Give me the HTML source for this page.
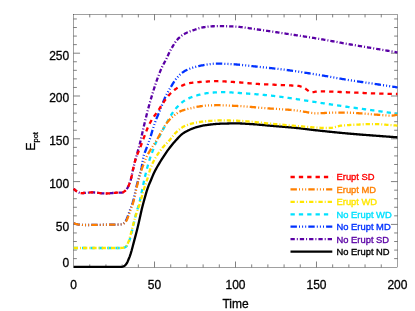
<!DOCTYPE html>
<html lang="en"><head><meta charset="utf-8"><title>E_pot vs Time</title>
<style>
html,body{margin:0;padding:0;background:#fff;}
body{width:415px;height:311px;overflow:hidden;}
svg{display:block;}
text{font-family:"Liberation Sans",Arial,Helvetica,sans-serif;}
</style></head><body>
<svg width="415" height="311" viewBox="0 0 415 311">
<rect x="0" y="0" width="415" height="311" fill="#ffffff"/>
<defs><filter id="soft" x="-5%" y="-5%" width="110%" height="110%" color-interpolation-filters="sRGB"><feGaussianBlur stdDeviation="0.25"/></filter></defs>
<g stroke="#000" stroke-width="0.37" fill="none">
<rect x="73.55" y="14.50" width="323.90" height="252.80"/>
<path stroke-width="0.5" d="M89.75 267.30V264.40M89.75 14.50V17.40M105.94 267.30V264.40M105.94 14.50V17.40M122.13 267.30V264.40M122.13 14.50V17.40M138.33 267.30V264.40M138.33 14.50V17.40M154.52 267.30V261.50M154.52 14.50V20.30M170.72 267.30V264.40M170.72 14.50V17.40M186.91 267.30V264.40M186.91 14.50V17.40M203.11 267.30V264.40M203.11 14.50V17.40M219.31 267.30V264.40M219.31 14.50V17.40M235.50 267.30V261.50M235.50 14.50V20.30M251.69 267.30V264.40M251.69 14.50V17.40M267.89 267.30V264.40M267.89 14.50V17.40M284.08 267.30V264.40M284.08 14.50V17.40M300.28 267.30V264.40M300.28 14.50V17.40M316.47 267.30V261.50M316.47 14.50V20.30M332.67 267.30V264.40M332.67 14.50V17.40M348.87 267.30V264.40M348.87 14.50V17.40M365.06 267.30V264.40M365.06 14.50V17.40M381.25 267.30V264.40M381.25 14.50V17.40"/>
<path stroke-width="0.5" d="M73.55 258.64H76.85M397.45 258.64H394.15M73.55 250.08H76.85M397.45 250.08H394.15M73.55 241.52H76.85M397.45 241.52H394.15M73.55 232.96H76.85M397.45 232.96H394.15M73.55 224.40H80.05M397.45 224.40H390.95M73.55 215.84H76.85M397.45 215.84H394.15M73.55 207.28H76.85M397.45 207.28H394.15M73.55 198.72H76.85M397.45 198.72H394.15M73.55 190.16H76.85M397.45 190.16H394.15M73.55 181.60H80.05M397.45 181.60H390.95M73.55 173.04H76.85M397.45 173.04H394.15M73.55 164.48H76.85M397.45 164.48H394.15M73.55 155.92H76.85M397.45 155.92H394.15M73.55 147.36H76.85M397.45 147.36H394.15M73.55 138.80H80.05M397.45 138.80H390.95M73.55 130.24H76.85M397.45 130.24H394.15M73.55 121.68H76.85M397.45 121.68H394.15M73.55 113.12H76.85M397.45 113.12H394.15M73.55 104.56H76.85M397.45 104.56H394.15M73.55 96.00H80.05M397.45 96.00H390.95M73.55 87.44H76.85M397.45 87.44H394.15M73.55 78.88H76.85M397.45 78.88H394.15M73.55 70.32H76.85M397.45 70.32H394.15M73.55 61.76H76.85M397.45 61.76H394.15M73.55 53.20H80.05M397.45 53.20H390.95M73.55 44.64H76.85M397.45 44.64H394.15M73.55 36.08H76.85M397.45 36.08H394.15M73.55 27.52H76.85M397.45 27.52H394.15M73.55 18.96H76.85M397.45 18.96H394.15"/>
</g>
<g stroke-linecap="butt" stroke-linejoin="round">
<polyline fill="none" stroke="#000000" stroke-width="2.30" points="73.70,266.90 74.70,266.90 75.70,266.90 76.70,266.90 77.70,266.90 78.70,266.90 79.70,266.90 80.70,266.90 81.70,266.90 82.70,266.90 83.70,266.90 84.70,266.90 85.70,266.90 86.70,266.90 87.70,266.90 88.70,266.90 89.70,266.90 90.70,266.90 91.70,266.90 92.70,266.90 93.70,266.90 94.70,266.90 95.70,266.90 96.70,266.90 97.70,266.90 98.70,266.90 99.70,266.90 100.70,266.90 101.70,266.90 102.70,266.90 103.70,266.90 104.70,266.90 105.70,266.90 106.70,266.90 107.70,266.90 108.70,266.90 109.70,266.90 110.70,266.90 111.70,266.90 112.70,266.90 113.70,266.90 114.70,266.90 115.70,266.90 116.70,266.90 117.70,266.90 118.70,266.90 119.70,266.90 120.70,266.90 121.70,266.83 122.70,266.59 123.70,266.24 124.70,265.67 125.70,264.75 126.70,263.40 127.70,261.41 128.70,259.03 129.70,256.56 130.70,253.67 131.70,250.24 132.70,246.48 133.70,242.65 134.70,238.90 135.70,235.12 136.70,231.24 137.70,227.24 138.70,222.99 139.70,218.44 140.70,213.88 141.70,209.59 142.70,205.59 143.70,201.78 144.70,198.14 145.70,194.59 146.70,191.18 147.70,188.06 148.70,185.36 149.70,182.99 150.70,180.70 151.70,178.31 152.70,175.89 153.70,173.57 154.70,171.49 155.70,169.58 156.70,167.78 157.70,166.04 158.70,164.33 159.70,162.64 160.70,161.00 161.70,159.41 162.70,157.85 163.70,156.31 164.70,154.79 165.70,153.30 166.70,151.85 167.70,150.45 168.70,149.10 169.70,147.79 170.70,146.50 171.70,145.24 172.70,144.02 173.70,142.83 174.70,141.67 175.70,140.55 176.70,139.45 177.70,138.36 178.70,137.28 179.70,136.24 180.70,135.26 181.70,134.37 182.70,133.60 183.70,132.92 184.70,132.29 185.70,131.71 186.70,131.17 187.70,130.66 188.70,130.19 189.70,129.73 190.70,129.30 191.70,128.88 192.70,128.47 193.70,128.09 194.70,127.73 195.70,127.39 196.70,127.08 197.70,126.80 198.70,126.54 199.70,126.30 200.70,126.06 201.70,125.85 202.70,125.65 203.70,125.46 204.70,125.30 205.70,125.16 206.70,125.02 207.70,124.89 208.70,124.76 209.70,124.63 210.70,124.51 211.70,124.40 212.70,124.29 213.70,124.19 214.70,124.09 215.70,124.00 216.70,123.92 217.70,123.85 218.70,123.79 219.70,123.74 220.70,123.70 221.70,123.67 222.70,123.64 223.70,123.61 224.70,123.58 225.70,123.55 226.70,123.53 227.70,123.51 228.70,123.48 229.70,123.46 230.70,123.45 231.70,123.43 232.70,123.42 233.70,123.41 234.70,123.40 235.70,123.40 236.70,123.40 237.70,123.41 238.70,123.43 239.70,123.45 240.70,123.49 241.70,123.52 242.70,123.57 243.70,123.62 244.70,123.67 245.70,123.73 246.70,123.79 247.70,123.85 248.70,123.92 249.70,123.98 250.70,124.04 251.70,124.10 252.70,124.16 253.70,124.23 254.70,124.30 255.70,124.38 256.70,124.46 257.70,124.55 258.70,124.64 259.70,124.73 260.70,124.82 261.70,124.92 262.70,125.01 263.70,125.11 264.70,125.21 265.70,125.30 266.70,125.39 267.70,125.49 268.70,125.57 269.70,125.66 270.70,125.75 271.70,125.83 272.70,125.91 273.70,126.00 274.70,126.08 275.70,126.16 276.70,126.24 277.70,126.33 278.70,126.41 279.70,126.49 280.70,126.57 281.70,126.65 282.70,126.74 283.70,126.82 284.70,126.90 285.70,126.99 286.70,127.07 287.70,127.16 288.70,127.25 289.70,127.34 290.70,127.43 291.70,127.52 292.70,127.61 293.70,127.71 294.70,127.80 295.70,127.90 296.70,128.00 297.70,128.11 298.70,128.21 299.70,128.32 300.70,128.44 301.70,128.55 302.70,128.67 303.70,128.79 304.70,128.91 305.70,129.03 306.70,129.15 307.70,129.27 308.70,129.40 309.70,129.52 310.70,129.64 311.70,129.76 312.70,129.89 313.70,130.01 314.70,130.12 315.70,130.24 316.70,130.36 317.70,130.47 318.70,130.58 319.70,130.69 320.70,130.79 321.70,130.90 322.70,131.01 323.70,131.12 324.70,131.22 325.70,131.33 326.70,131.43 327.70,131.54 328.70,131.64 329.70,131.75 330.70,131.85 331.70,131.95 332.70,132.05 333.70,132.16 334.70,132.26 335.70,132.36 336.70,132.46 337.70,132.55 338.70,132.65 339.70,132.75 340.70,132.85 341.70,132.94 342.70,133.03 343.70,133.13 344.70,133.22 345.70,133.31 346.70,133.40 347.70,133.49 348.70,133.58 349.70,133.67 350.70,133.75 351.70,133.84 352.70,133.92 353.70,134.01 354.70,134.09 355.70,134.17 356.70,134.25 357.70,134.33 358.70,134.41 359.70,134.49 360.70,134.57 361.70,134.65 362.70,134.73 363.70,134.81 364.70,134.88 365.70,134.96 366.70,135.04 367.70,135.11 368.70,135.19 369.70,135.26 370.70,135.34 371.70,135.41 372.70,135.49 373.70,135.57 374.70,135.64 375.70,135.72 376.70,135.79 377.70,135.87 378.70,135.94 379.70,136.02 380.70,136.09 381.70,136.17 382.70,136.24 383.70,136.32 384.70,136.39 385.70,136.46 386.70,136.54 387.70,136.61 388.70,136.68 389.70,136.75 390.70,136.82 391.70,136.90 392.70,136.97 393.70,137.04 394.70,137.11 395.70,137.18 396.70,137.25 397.40,137.30"/>
<polyline fill="none" stroke="#5a00a5" stroke-width="2.30" stroke-dasharray="4.3 2 1 2" points="73.70,188.70 74.70,189.70 75.70,190.59 76.70,191.32 77.70,191.91 78.70,192.47 79.70,192.90 80.70,193.10 81.70,193.09 82.70,193.05 83.70,192.99 84.70,192.91 85.70,192.82 86.70,192.73 87.70,192.64 88.70,192.56 89.70,192.49 90.70,192.43 91.70,192.40 92.70,192.40 93.70,192.44 94.70,192.50 95.70,192.58 96.70,192.69 97.70,192.80 98.70,192.92 99.70,193.04 100.70,193.16 101.70,193.27 102.70,193.36 103.70,193.43 104.70,193.48 105.70,193.50 106.70,193.48 107.70,193.44 108.70,193.38 109.70,193.29 110.70,193.20 111.70,193.10 112.70,193.00 113.70,192.90 114.70,192.82 115.70,192.74 116.70,192.69 117.70,192.66 118.70,192.63 119.70,192.61 120.70,192.58 121.70,192.54 122.70,192.42 123.70,191.91 124.70,191.14 125.70,190.27 126.70,189.11 127.70,187.58 128.70,185.54 129.70,183.01 130.70,180.02 131.70,175.92 132.70,170.96 133.70,166.65 134.70,162.61 135.70,158.75 136.70,155.12 137.70,151.65 138.70,148.02 139.70,144.20 140.70,140.10 141.70,135.76 142.70,131.32 143.70,126.90 144.70,122.65 145.70,118.53 146.70,114.52 147.70,110.64 148.70,106.89 149.70,103.25 150.70,99.73 151.70,96.33 152.70,92.99 153.70,89.72 154.70,86.55 155.70,83.50 156.70,80.62 157.70,77.85 158.70,75.15 159.70,72.57 160.70,70.11 161.70,67.80 162.70,65.68 163.70,63.81 164.70,62.04 165.70,60.20 166.70,58.15 167.70,55.99 168.70,53.84 169.70,51.80 170.70,49.90 171.70,48.13 172.70,46.42 173.70,44.72 174.70,43.10 175.70,41.60 176.70,40.28 177.70,39.18 178.70,38.19 179.70,37.28 180.70,36.43 181.70,35.66 182.70,34.96 183.70,34.32 184.70,33.75 185.70,33.22 186.70,32.74 187.70,32.29 188.70,31.87 189.70,31.48 190.70,31.11 191.70,30.75 192.70,30.40 193.70,30.06 194.70,29.72 195.70,29.38 196.70,29.05 197.70,28.73 198.70,28.42 199.70,28.13 200.70,27.87 201.70,27.63 202.70,27.42 203.70,27.25 204.70,27.09 205.70,26.94 206.70,26.80 207.70,26.67 208.70,26.56 209.70,26.46 210.70,26.38 211.70,26.31 212.70,26.27 213.70,26.23 214.70,26.19 215.70,26.16 216.70,26.13 217.70,26.11 218.70,26.10 219.70,26.10 220.70,26.11 221.70,26.12 222.70,26.13 223.70,26.15 224.70,26.17 225.70,26.20 226.70,26.23 227.70,26.26 228.70,26.30 229.70,26.34 230.70,26.38 231.70,26.43 232.70,26.47 233.70,26.52 234.70,26.57 235.70,26.62 236.70,26.67 237.70,26.75 238.70,26.83 239.70,26.92 240.70,27.03 241.70,27.14 242.70,27.26 243.70,27.39 244.70,27.53 245.70,27.67 246.70,27.81 247.70,27.96 248.70,28.12 249.70,28.27 250.70,28.43 251.70,28.59 252.70,28.74 253.70,28.90 254.70,29.05 255.70,29.20 256.70,29.35 257.70,29.49 258.70,29.62 259.70,29.76 260.70,29.90 261.70,30.05 262.70,30.19 263.70,30.33 264.70,30.48 265.70,30.62 266.70,30.77 267.70,30.92 268.70,31.06 269.70,31.21 270.70,31.36 271.70,31.51 272.70,31.66 273.70,31.81 274.70,31.96 275.70,32.11 276.70,32.26 277.70,32.41 278.70,32.57 279.70,32.72 280.70,32.87 281.70,33.02 282.70,33.18 283.70,33.33 284.70,33.48 285.70,33.63 286.70,33.78 287.70,33.94 288.70,34.09 289.70,34.24 290.70,34.39 291.70,34.54 292.70,34.69 293.70,34.84 294.70,35.00 295.70,35.15 296.70,35.30 297.70,35.45 298.70,35.60 299.70,35.76 300.70,35.91 301.70,36.06 302.70,36.22 303.70,36.37 304.70,36.52 305.70,36.68 306.70,36.83 307.70,36.99 308.70,37.15 309.70,37.31 310.70,37.46 311.70,37.62 312.70,37.78 313.70,37.95 314.70,38.11 315.70,38.27 316.70,38.43 317.70,38.60 318.70,38.77 319.70,38.93 320.70,39.10 321.70,39.28 322.70,39.45 323.70,39.62 324.70,39.80 325.70,39.98 326.70,40.16 327.70,40.34 328.70,40.52 329.70,40.70 330.70,40.89 331.70,41.07 332.70,41.25 333.70,41.44 334.70,41.62 335.70,41.81 336.70,41.99 337.70,42.18 338.70,42.36 339.70,42.55 340.70,42.73 341.70,42.91 342.70,43.09 343.70,43.27 344.70,43.45 345.70,43.63 346.70,43.81 347.70,43.98 348.70,44.16 349.70,44.33 350.70,44.50 351.70,44.67 352.70,44.85 353.70,45.02 354.70,45.19 355.70,45.36 356.70,45.53 357.70,45.69 358.70,45.86 359.70,46.03 360.70,46.20 361.70,46.37 362.70,46.53 363.70,46.70 364.70,46.87 365.70,47.04 366.70,47.20 367.70,47.37 368.70,47.54 369.70,47.71 370.70,47.87 371.70,48.04 372.70,48.21 373.70,48.38 374.70,48.55 375.70,48.71 376.70,48.88 377.70,49.05 378.70,49.22 379.70,49.39 380.70,49.56 381.70,49.73 382.70,49.90 383.70,50.07 384.70,50.24 385.70,50.41 386.70,50.58 387.70,50.75 388.70,50.92 389.70,51.09 390.70,51.26 391.70,51.43 392.70,51.60 393.70,51.77 394.70,51.94 395.70,52.11 396.70,52.28 397.40,52.40"/>
<polyline fill="none" stroke="#0032ff" stroke-width="2.30" stroke-dasharray="6.4 2.1 1 2.1 1 2.1 1 2.1" points="73.70,223.10 74.70,223.52 75.70,223.91 76.70,224.23 77.70,224.46 78.70,224.58 79.70,224.69 80.70,224.79 81.70,224.87 82.70,224.94 83.70,224.98 84.70,225.00 85.70,225.00 86.70,225.00 87.70,224.99 88.70,224.98 89.70,224.97 90.70,224.96 91.70,224.94 92.70,224.93 93.70,224.91 94.70,224.89 95.70,224.87 96.70,224.86 97.70,224.84 98.70,224.82 99.70,224.80 100.70,224.79 101.70,224.78 102.70,224.76 103.70,224.75 104.70,224.74 105.70,224.73 106.70,224.72 107.70,224.71 108.70,224.70 109.70,224.69 110.70,224.68 111.70,224.67 112.70,224.65 113.70,224.63 114.70,224.61 115.70,224.59 116.70,224.56 117.70,224.54 118.70,224.50 119.70,224.46 120.70,224.42 121.70,224.33 122.70,223.94 123.70,223.27 124.70,222.39 125.70,221.21 126.70,219.04 127.70,216.50 128.70,213.78 129.70,210.84 130.70,208.17 131.70,205.67 132.70,202.82 133.70,199.08 134.70,194.56 135.70,189.90 136.70,185.71 137.70,181.88 138.70,178.20 139.70,174.59 140.70,171.22 141.70,167.18 142.70,160.79 143.70,155.61 144.70,152.74 145.70,150.31 146.70,147.58 147.70,144.93 148.70,142.26 149.70,139.41 150.70,136.25 151.70,132.89 152.70,129.52 153.70,126.28 154.70,123.34 155.70,120.67 156.70,118.16 157.70,115.75 158.70,113.37 159.70,110.98 160.70,108.49 161.70,105.89 162.70,103.27 163.70,100.71 164.70,98.32 165.70,96.17 166.70,94.19 167.70,92.33 168.70,90.55 169.70,88.85 170.70,87.19 171.70,85.55 172.70,83.90 173.70,82.30 174.70,80.77 175.70,79.36 176.70,78.11 177.70,76.99 178.70,75.93 179.70,74.92 180.70,73.98 181.70,73.12 182.70,72.35 183.70,71.68 184.70,71.10 185.70,70.56 186.70,70.05 187.70,69.58 188.70,69.14 189.70,68.72 190.70,68.34 191.70,67.99 192.70,67.65 193.70,67.35 194.70,67.06 195.70,66.79 196.70,66.53 197.70,66.28 198.70,66.05 199.70,65.83 200.70,65.63 201.70,65.44 202.70,65.26 203.70,65.09 204.70,64.94 205.70,64.78 206.70,64.63 207.70,64.47 208.70,64.32 209.70,64.17 210.70,64.03 211.70,63.91 212.70,63.81 213.70,63.72 214.70,63.65 215.70,63.61 216.70,63.60 217.70,63.60 218.70,63.62 219.70,63.63 220.70,63.66 221.70,63.69 222.70,63.72 223.70,63.76 224.70,63.80 225.70,63.85 226.70,63.89 227.70,63.94 228.70,64.00 229.70,64.05 230.70,64.10 231.70,64.16 232.70,64.21 233.70,64.27 234.70,64.33 235.70,64.41 236.70,64.48 237.70,64.57 238.70,64.65 239.70,64.75 240.70,64.84 241.70,64.94 242.70,65.05 243.70,65.16 244.70,65.27 245.70,65.38 246.70,65.49 247.70,65.60 248.70,65.72 249.70,65.83 250.70,65.95 251.70,66.06 252.70,66.17 253.70,66.28 254.70,66.39 255.70,66.50 256.70,66.61 257.70,66.71 258.70,66.81 259.70,66.92 260.70,67.03 261.70,67.13 262.70,67.24 263.70,67.34 264.70,67.45 265.70,67.55 266.70,67.66 267.70,67.77 268.70,67.88 269.70,67.99 270.70,68.09 271.70,68.20 272.70,68.32 273.70,68.43 274.70,68.54 275.70,68.65 276.70,68.77 277.70,68.88 278.70,69.00 279.70,69.12 280.70,69.24 281.70,69.36 282.70,69.48 283.70,69.61 284.70,69.73 285.70,69.86 286.70,69.99 287.70,70.12 288.70,70.25 289.70,70.38 290.70,70.52 291.70,70.66 292.70,70.80 293.70,70.94 294.70,71.09 295.70,71.23 296.70,71.38 297.70,71.53 298.70,71.68 299.70,71.83 300.70,71.99 301.70,72.14 302.70,72.29 303.70,72.45 304.70,72.61 305.70,72.77 306.70,72.93 307.70,73.09 308.70,73.25 309.70,73.41 310.70,73.57 311.70,73.73 312.70,73.89 313.70,74.05 314.70,74.22 315.70,74.38 316.70,74.54 317.70,74.71 318.70,74.87 319.70,75.03 320.70,75.20 321.70,75.36 322.70,75.53 323.70,75.70 324.70,75.88 325.70,76.05 326.70,76.23 327.70,76.40 328.70,76.58 329.70,76.76 330.70,76.94 331.70,77.11 332.70,77.29 333.70,77.47 334.70,77.65 335.70,77.83 336.70,78.01 337.70,78.19 338.70,78.36 339.70,78.54 340.70,78.71 341.70,78.88 342.70,79.06 343.70,79.23 344.70,79.39 345.70,79.56 346.70,79.72 347.70,79.88 348.70,80.04 349.70,80.20 350.70,80.36 351.70,80.51 352.70,80.66 353.70,80.81 354.70,80.96 355.70,81.11 356.70,81.26 357.70,81.41 358.70,81.56 359.70,81.70 360.70,81.85 361.70,81.99 362.70,82.14 363.70,82.28 364.70,82.42 365.70,82.57 366.70,82.71 367.70,82.86 368.70,83.00 369.70,83.15 370.70,83.29 371.70,83.44 372.70,83.59 373.70,83.73 374.70,83.88 375.70,84.03 376.70,84.18 377.70,84.34 378.70,84.49 379.70,84.64 380.70,84.80 381.70,84.95 382.70,85.10 383.70,85.26 384.70,85.41 385.70,85.57 386.70,85.72 387.70,85.88 388.70,86.03 389.70,86.19 390.70,86.35 391.70,86.50 392.70,86.66 393.70,86.82 394.70,86.97 395.70,87.13 396.70,87.29 397.40,87.40"/>
<polyline fill="none" stroke="#00e1ff" stroke-width="2.30" stroke-dasharray="4.3 4.05" points="73.70,248.00 74.70,248.00 75.70,248.00 76.70,248.00 77.70,248.00 78.70,248.00 79.70,248.00 80.70,248.00 81.70,248.00 82.70,248.00 83.70,248.00 84.70,248.00 85.70,248.00 86.70,248.00 87.70,248.00 88.70,248.00 89.70,248.00 90.70,248.00 91.70,248.00 92.70,248.00 93.70,248.00 94.70,248.00 95.70,248.00 96.70,248.00 97.70,248.00 98.70,248.00 99.70,248.00 100.70,248.00 101.70,248.00 102.70,248.00 103.70,248.00 104.70,248.00 105.70,248.00 106.70,248.00 107.70,248.00 108.70,248.00 109.70,248.00 110.70,248.00 111.70,248.00 112.70,248.00 113.70,248.00 114.70,248.00 115.70,248.00 116.70,248.00 117.70,248.00 118.70,248.00 119.70,248.00 120.70,248.00 121.70,247.99 122.70,247.88 123.70,247.68 124.70,247.40 125.70,246.95 126.70,246.07 127.70,244.73 128.70,242.41 129.70,239.63 130.70,236.23 131.70,232.42 132.70,228.17 133.70,223.83 134.70,219.39 135.70,215.16 136.70,211.54 137.70,208.38 138.70,205.17 139.70,201.39 140.70,196.94 141.70,192.23 142.70,187.48 143.70,182.59 144.70,177.94 145.70,173.69 146.70,169.70 147.70,165.98 148.70,162.49 149.70,159.23 150.70,156.23 151.70,153.46 152.70,150.81 153.70,148.17 154.70,145.50 155.70,143.05 156.70,141.08 157.70,139.45 158.70,137.85 159.70,136.06 160.70,134.18 161.70,132.25 162.70,130.30 163.70,128.35 164.70,126.44 165.70,124.61 166.70,122.85 167.70,121.07 168.70,119.30 169.70,117.55 170.70,115.84 171.70,114.20 172.70,112.66 173.70,111.22 174.70,109.92 175.70,108.73 176.70,107.58 177.70,106.48 178.70,105.42 179.70,104.43 180.70,103.50 181.70,102.63 182.70,101.84 183.70,101.13 184.70,100.49 185.70,99.90 186.70,99.34 187.70,98.82 188.70,98.34 189.70,97.90 190.70,97.48 191.70,97.09 192.70,96.73 193.70,96.40 194.70,96.08 195.70,95.78 196.70,95.49 197.70,95.22 198.70,94.96 199.70,94.71 200.70,94.48 201.70,94.25 202.70,94.03 203.70,93.82 204.70,93.62 205.70,93.41 206.70,93.22 207.70,93.05 208.70,92.92 209.70,92.83 210.70,92.74 211.70,92.65 212.70,92.57 213.70,92.50 214.70,92.43 215.70,92.36 216.70,92.30 217.70,92.25 218.70,92.20 219.70,92.16 220.70,92.14 221.70,92.11 222.70,92.10 223.70,92.10 224.70,92.11 225.70,92.13 226.70,92.17 227.70,92.21 228.70,92.27 229.70,92.33 230.70,92.39 231.70,92.46 232.70,92.53 233.70,92.61 234.70,92.68 235.70,92.76 236.70,92.83 237.70,92.89 238.70,92.96 239.70,93.02 240.70,93.09 241.70,93.16 242.70,93.22 243.70,93.29 244.70,93.36 245.70,93.43 246.70,93.51 247.70,93.58 248.70,93.65 249.70,93.73 250.70,93.81 251.70,93.88 252.70,93.96 253.70,94.04 254.70,94.12 255.70,94.20 256.70,94.29 257.70,94.37 258.70,94.46 259.70,94.54 260.70,94.63 261.70,94.72 262.70,94.81 263.70,94.91 264.70,95.00 265.70,95.09 266.70,95.19 267.70,95.29 268.70,95.39 269.70,95.50 270.70,95.61 271.70,95.72 272.70,95.83 273.70,95.95 274.70,96.07 275.70,96.19 276.70,96.31 277.70,96.44 278.70,96.57 279.70,96.69 280.70,96.82 281.70,96.96 282.70,97.09 283.70,97.22 284.70,97.35 285.70,97.49 286.70,97.63 287.70,97.77 288.70,97.91 289.70,98.06 290.70,98.21 291.70,98.36 292.70,98.51 293.70,98.66 294.70,98.82 295.70,98.97 296.70,99.13 297.70,99.28 298.70,99.44 299.70,99.59 300.70,99.75 301.70,99.91 302.70,100.06 303.70,100.22 304.70,100.37 305.70,100.53 306.70,100.68 307.70,100.84 308.70,101.00 309.70,101.16 310.70,101.31 311.70,101.47 312.70,101.63 313.70,101.79 314.70,101.95 315.70,102.10 316.70,102.26 317.70,102.42 318.70,102.57 319.70,102.72 320.70,102.88 321.70,103.03 322.70,103.18 323.70,103.33 324.70,103.48 325.70,103.64 326.70,103.79 327.70,103.94 328.70,104.09 329.70,104.24 330.70,104.39 331.70,104.54 332.70,104.69 333.70,104.84 334.70,104.99 335.70,105.14 336.70,105.28 337.70,105.43 338.70,105.58 339.70,105.73 340.70,105.87 341.70,106.02 342.70,106.16 343.70,106.31 344.70,106.45 345.70,106.60 346.70,106.74 347.70,106.89 348.70,107.03 349.70,107.17 350.70,107.31 351.70,107.45 352.70,107.59 353.70,107.73 354.70,107.87 355.70,108.01 356.70,108.15 357.70,108.28 358.70,108.42 359.70,108.56 360.70,108.70 361.70,108.83 362.70,108.97 363.70,109.10 364.70,109.24 365.70,109.38 366.70,109.51 367.70,109.65 368.70,109.79 369.70,109.92 370.70,110.06 371.70,110.20 372.70,110.33 373.70,110.47 374.70,110.61 375.70,110.75 376.70,110.89 377.70,111.03 378.70,111.17 379.70,111.30 380.70,111.44 381.70,111.58 382.70,111.73 383.70,111.87 384.70,112.01 385.70,112.15 386.70,112.29 387.70,112.43 388.70,112.57 389.70,112.71 390.70,112.85 391.70,112.99 392.70,113.13 393.70,113.28 394.70,113.42 395.70,113.56 396.70,113.70 397.40,113.80"/>
<polyline fill="none" stroke="#ffe600" stroke-width="2.30" stroke-dasharray="4.3 2 1 2" points="73.70,248.00 74.70,248.00 75.70,248.00 76.70,248.00 77.70,248.00 78.70,248.00 79.70,248.00 80.70,248.00 81.70,248.00 82.70,248.00 83.70,248.00 84.70,248.00 85.70,248.00 86.70,248.00 87.70,248.00 88.70,248.00 89.70,248.00 90.70,248.00 91.70,248.00 92.70,248.00 93.70,248.00 94.70,248.00 95.70,248.00 96.70,248.00 97.70,248.00 98.70,248.00 99.70,248.00 100.70,248.00 101.70,248.00 102.70,248.00 103.70,248.00 104.70,248.00 105.70,248.00 106.70,248.00 107.70,248.00 108.70,248.00 109.70,248.00 110.70,248.00 111.70,248.00 112.70,248.00 113.70,248.00 114.70,248.00 115.70,248.00 116.70,248.00 117.70,248.00 118.70,248.00 119.70,248.00 120.70,248.00 121.70,247.96 122.70,247.80 123.70,247.55 124.70,247.22 125.70,246.55 126.70,245.50 127.70,243.66 128.70,241.05 129.70,237.99 130.70,234.32 131.70,230.43 132.70,226.38 133.70,222.64 134.70,219.04 135.70,215.62 136.70,212.46 137.70,209.61 138.70,206.85 139.70,203.94 140.70,200.64 141.70,197.00 142.70,193.36 143.70,190.01 144.70,186.92 145.70,183.95 146.70,180.97 147.70,177.86 148.70,174.43 149.70,170.93 150.70,167.78 151.70,165.24 152.70,163.04 153.70,161.06 154.70,159.22 155.70,157.49 156.70,155.83 157.70,154.26 158.70,152.77 159.70,151.36 160.70,150.02 161.70,148.75 162.70,147.55 163.70,146.42 164.70,145.33 165.70,144.28 166.70,143.23 167.70,142.18 168.70,141.11 169.70,140.00 170.70,138.82 171.70,137.59 172.70,136.33 173.70,135.09 174.70,133.89 175.70,132.78 176.70,131.78 177.70,130.89 178.70,130.04 179.70,129.23 180.70,128.47 181.70,127.76 182.70,127.12 183.70,126.55 184.70,126.06 185.70,125.61 186.70,125.19 187.70,124.81 188.70,124.45 189.70,124.13 190.70,123.83 191.70,123.55 192.70,123.30 193.70,123.08 194.70,122.87 195.70,122.68 196.70,122.50 197.70,122.33 198.70,122.17 199.70,122.01 200.70,121.86 201.70,121.72 202.70,121.59 203.70,121.47 204.70,121.36 205.70,121.27 206.70,121.19 207.70,121.10 208.70,121.02 209.70,120.94 210.70,120.86 211.70,120.78 212.70,120.71 213.70,120.65 214.70,120.59 215.70,120.53 216.70,120.49 217.70,120.45 218.70,120.42 219.70,120.41 220.70,120.40 221.70,120.40 222.70,120.41 223.70,120.41 224.70,120.43 225.70,120.44 226.70,120.46 227.70,120.47 228.70,120.50 229.70,120.52 230.70,120.54 231.70,120.57 232.70,120.60 233.70,120.62 234.70,120.65 235.70,120.68 236.70,120.71 237.70,120.75 238.70,120.79 239.70,120.84 240.70,120.89 241.70,120.95 242.70,121.02 243.70,121.08 244.70,121.15 245.70,121.23 246.70,121.30 247.70,121.38 248.70,121.46 249.70,121.54 250.70,121.62 251.70,121.70 252.70,121.78 253.70,121.87 254.70,121.97 255.70,122.06 256.70,122.17 257.70,122.27 258.70,122.38 259.70,122.49 260.70,122.60 261.70,122.71 262.70,122.83 263.70,122.94 264.70,123.05 265.70,123.16 266.70,123.27 267.70,123.37 268.70,123.47 269.70,123.57 270.70,123.66 271.70,123.76 272.70,123.85 273.70,123.95 274.70,124.04 275.70,124.13 276.70,124.22 277.70,124.32 278.70,124.41 279.70,124.50 280.70,124.59 281.70,124.67 282.70,124.76 283.70,124.85 284.70,124.94 285.70,125.03 286.70,125.11 287.70,125.20 288.70,125.29 289.70,125.37 290.70,125.46 291.70,125.55 292.70,125.63 293.70,125.72 294.70,125.80 295.70,125.88 296.70,125.97 297.70,126.05 298.70,126.13 299.70,126.21 300.70,126.29 301.70,126.38 302.70,126.46 303.70,126.54 304.70,126.62 305.70,126.70 306.70,126.78 307.70,126.87 308.70,126.95 309.70,127.04 310.70,127.13 311.70,127.21 312.70,127.29 313.70,127.37 314.70,127.45 315.70,127.52 316.70,127.58 317.70,127.64 318.70,127.69 319.70,127.74 320.70,127.79 321.70,127.83 322.70,127.88 323.70,127.92 324.70,127.95 325.70,127.98 326.70,127.99 327.70,128.00 328.70,127.98 329.70,127.93 330.70,127.86 331.70,127.78 332.70,127.63 333.70,127.41 334.70,127.16 335.70,126.92 336.70,126.69 337.70,126.44 338.70,126.18 339.70,125.94 340.70,125.73 341.70,125.59 342.70,125.48 343.70,125.38 344.70,125.30 345.70,125.23 346.70,125.16 347.70,125.10 348.70,125.04 349.70,124.98 350.70,124.92 351.70,124.86 352.70,124.81 353.70,124.76 354.70,124.71 355.70,124.66 356.70,124.62 357.70,124.57 358.70,124.53 359.70,124.48 360.70,124.43 361.70,124.37 362.70,124.32 363.70,124.26 364.70,124.21 365.70,124.16 366.70,124.13 367.70,124.11 368.70,124.10 369.70,124.10 370.70,124.10 371.70,124.10 372.70,124.10 373.70,124.10 374.70,124.10 375.70,124.10 376.70,124.13 377.70,124.17 378.70,124.22 379.70,124.28 380.70,124.35 381.70,124.43 382.70,124.50 383.70,124.58 384.70,124.65 385.70,124.72 386.70,124.79 387.70,124.85 388.70,124.92 389.70,125.00 390.70,125.07 391.70,125.14 392.70,125.22 393.70,125.30 394.70,125.38 395.70,125.46 396.70,125.54 397.40,125.60"/>
<polyline fill="none" stroke="#ff8000" stroke-width="2.30" stroke-dasharray="6.4 2.1 1 2.1 1 2.1 1 2.1" points="73.70,223.10 74.70,223.52 75.70,223.91 76.70,224.23 77.70,224.46 78.70,224.58 79.70,224.69 80.70,224.79 81.70,224.87 82.70,224.94 83.70,224.98 84.70,225.00 85.70,225.00 86.70,225.00 87.70,224.99 88.70,224.98 89.70,224.97 90.70,224.96 91.70,224.94 92.70,224.93 93.70,224.91 94.70,224.89 95.70,224.87 96.70,224.86 97.70,224.84 98.70,224.82 99.70,224.80 100.70,224.79 101.70,224.78 102.70,224.76 103.70,224.75 104.70,224.74 105.70,224.73 106.70,224.72 107.70,224.72 108.70,224.71 109.70,224.69 110.70,224.68 111.70,224.67 112.70,224.66 113.70,224.64 114.70,224.62 115.70,224.60 116.70,224.57 117.70,224.55 118.70,224.51 119.70,224.48 120.70,224.44 121.70,224.39 122.70,224.14 123.70,223.60 124.70,222.83 125.70,221.90 126.70,220.23 127.70,217.77 128.70,215.20 129.70,212.32 130.70,209.45 131.70,206.83 132.70,204.08 133.70,200.68 134.70,196.41 135.70,191.77 136.70,187.31 137.70,183.24 138.70,179.32 139.70,175.65 140.70,172.19 141.70,169.07 142.70,166.49 143.70,164.15 144.70,161.43 145.70,158.70 146.70,156.52 147.70,154.60 148.70,152.84 149.70,151.17 150.70,149.50 151.70,147.85 152.70,146.26 153.70,144.71 154.70,143.17 155.70,141.61 156.70,140.00 157.70,138.31 158.70,136.53 159.70,134.71 160.70,132.87 161.70,131.04 162.70,129.25 163.70,127.53 164.70,125.92 165.70,124.45 166.70,123.11 167.70,121.85 168.70,120.65 169.70,119.52 170.70,118.47 171.70,117.50 172.70,116.62 173.70,115.79 174.70,114.98 175.70,114.21 176.70,113.48 177.70,112.81 178.70,112.19 179.70,111.63 180.70,111.15 181.70,110.75 182.70,110.39 183.70,110.06 184.70,109.76 185.70,109.48 186.70,109.22 187.70,108.97 188.70,108.74 189.70,108.51 190.70,108.29 191.70,108.06 192.70,107.82 193.70,107.58 194.70,107.34 195.70,107.11 196.70,106.91 197.70,106.73 198.70,106.57 199.70,106.41 200.70,106.26 201.70,106.11 202.70,105.97 203.70,105.84 204.70,105.72 205.70,105.62 206.70,105.53 207.70,105.46 208.70,105.41 209.70,105.37 210.70,105.34 211.70,105.30 212.70,105.27 213.70,105.25 214.70,105.23 215.70,105.21 216.70,105.20 217.70,105.20 218.70,105.20 219.70,105.21 220.70,105.23 221.70,105.25 222.70,105.28 223.70,105.31 224.70,105.34 225.70,105.38 226.70,105.42 227.70,105.47 228.70,105.52 229.70,105.57 230.70,105.62 231.70,105.67 232.70,105.73 233.70,105.78 234.70,105.83 235.70,105.89 236.70,105.94 237.70,105.99 238.70,106.05 239.70,106.11 240.70,106.17 241.70,106.23 242.70,106.30 243.70,106.37 244.70,106.44 245.70,106.52 246.70,106.59 247.70,106.67 248.70,106.76 249.70,106.84 250.70,106.92 251.70,107.01 252.70,107.10 253.70,107.19 254.70,107.27 255.70,107.36 256.70,107.45 257.70,107.54 258.70,107.63 259.70,107.71 260.70,107.80 261.70,107.89 262.70,107.97 263.70,108.05 264.70,108.14 265.70,108.22 266.70,108.29 267.70,108.37 268.70,108.44 269.70,108.51 270.70,108.58 271.70,108.64 272.70,108.71 273.70,108.77 274.70,108.83 275.70,108.90 276.70,108.96 277.70,109.02 278.70,109.08 279.70,109.14 280.70,109.20 281.70,109.27 282.70,109.33 283.70,109.40 284.70,109.46 285.70,109.53 286.70,109.61 287.70,109.68 288.70,109.76 289.70,109.84 290.70,109.92 291.70,110.01 292.70,110.10 293.70,110.20 294.70,110.30 295.70,110.40 296.70,110.52 297.70,110.66 298.70,110.82 299.70,110.99 300.70,111.17 301.70,111.34 302.70,111.52 303.70,111.68 304.70,111.83 305.70,111.98 306.70,112.15 307.70,112.32 308.70,112.50 309.70,112.67 310.70,112.83 311.70,112.97 312.70,113.10 313.70,113.20 314.70,113.27 315.70,113.30 316.70,113.30 317.70,113.28 318.70,113.26 319.70,113.23 320.70,113.19 321.70,113.15 322.70,113.10 323.70,113.05 324.70,113.00 325.70,112.95 326.70,112.90 327.70,112.85 328.70,112.81 329.70,112.77 330.70,112.74 331.70,112.72 332.70,112.70 333.70,112.70 334.70,112.70 335.70,112.70 336.70,112.70 337.70,112.70 338.70,112.70 339.70,112.70 340.70,112.70 341.70,112.70 342.70,112.70 343.70,112.70 344.70,112.70 345.70,112.70 346.70,112.70 347.70,112.70 348.70,112.71 349.70,112.72 350.70,112.75 351.70,112.79 352.70,112.84 353.70,112.90 354.70,112.96 355.70,113.02 356.70,113.09 357.70,113.17 358.70,113.24 359.70,113.32 360.70,113.39 361.70,113.46 362.70,113.53 363.70,113.60 364.70,113.67 365.70,113.76 366.70,113.84 367.70,113.93 368.70,114.01 369.70,114.10 370.70,114.19 371.70,114.28 372.70,114.37 373.70,114.46 374.70,114.54 375.70,114.62 376.70,114.69 377.70,114.77 378.70,114.84 379.70,114.93 380.70,115.01 381.70,115.09 382.70,115.18 383.70,115.26 384.70,115.33 385.70,115.40 386.70,115.46 387.70,115.51 388.70,115.55 389.70,115.58 390.70,115.60 391.70,115.59 392.70,115.52 393.70,115.40 394.70,115.24 395.70,115.05 396.70,114.85 397.40,114.70"/>
<polyline fill="none" stroke="#ff0000" stroke-width="2.30" stroke-dasharray="4.3 4.05" points="73.70,188.70 74.70,189.70 75.70,190.59 76.70,191.32 77.70,191.91 78.70,192.47 79.70,192.90 80.70,193.10 81.70,193.09 82.70,193.05 83.70,192.99 84.70,192.91 85.70,192.82 86.70,192.73 87.70,192.64 88.70,192.56 89.70,192.49 90.70,192.43 91.70,192.40 92.70,192.40 93.70,192.44 94.70,192.50 95.70,192.58 96.70,192.69 97.70,192.80 98.70,192.92 99.70,193.04 100.70,193.16 101.70,193.27 102.70,193.36 103.70,193.43 104.70,193.48 105.70,193.50 106.70,193.48 107.70,193.44 108.70,193.38 109.70,193.29 110.70,193.20 111.70,193.10 112.70,193.00 113.70,192.90 114.70,192.82 115.70,192.74 116.70,192.69 117.70,192.66 118.70,192.63 119.70,192.61 120.70,192.58 121.70,192.54 122.70,192.42 123.70,191.91 124.70,191.14 125.70,190.27 126.70,189.11 127.70,187.58 128.70,185.54 129.70,183.01 130.70,180.02 131.70,175.92 132.70,170.96 133.70,166.56 134.70,162.30 135.70,158.62 136.70,155.83 137.70,153.54 138.70,151.38 139.70,148.99 140.70,146.31 141.70,143.53 142.70,140.79 143.70,138.16 144.70,135.49 145.70,132.83 146.70,130.24 147.70,127.79 148.70,125.53 149.70,123.52 150.70,121.70 151.70,120.02 152.70,118.43 153.70,116.93 154.70,115.49 155.70,114.08 156.70,112.68 157.70,111.26 158.70,109.80 159.70,108.29 160.70,106.74 161.70,105.18 162.70,103.63 163.70,102.10 164.70,100.62 165.70,99.20 166.70,97.87 167.70,96.64 168.70,95.46 169.70,94.32 170.70,93.24 171.70,92.22 172.70,91.29 173.70,90.45 174.70,89.71 175.70,89.00 176.70,88.35 177.70,87.74 178.70,87.17 179.70,86.65 180.70,86.18 181.70,85.74 182.70,85.32 183.70,84.91 184.70,84.52 185.70,84.16 186.70,83.84 187.70,83.55 188.70,83.31 189.70,83.12 190.70,82.96 191.70,82.82 192.70,82.69 193.70,82.57 194.70,82.46 195.70,82.35 196.70,82.26 197.70,82.17 198.70,82.09 199.70,82.01 200.70,81.94 201.70,81.87 202.70,81.80 203.70,81.74 204.70,81.68 205.70,81.61 206.70,81.55 207.70,81.49 208.70,81.43 209.70,81.37 210.70,81.32 211.70,81.27 212.70,81.24 213.70,81.21 214.70,81.20 215.70,81.20 216.70,81.21 217.70,81.22 218.70,81.24 219.70,81.27 220.70,81.30 221.70,81.34 222.70,81.38 223.70,81.42 224.70,81.47 225.70,81.52 226.70,81.58 227.70,81.64 228.70,81.69 229.70,81.75 230.70,81.82 231.70,81.88 232.70,81.94 233.70,82.00 234.70,82.06 235.70,82.12 236.70,82.18 237.70,82.25 238.70,82.33 239.70,82.41 240.70,82.49 241.70,82.58 242.70,82.67 243.70,82.76 244.70,82.86 245.70,82.95 246.70,83.05 247.70,83.14 248.70,83.24 249.70,83.33 250.70,83.42 251.70,83.50 252.70,83.59 253.70,83.66 254.70,83.73 255.70,83.80 256.70,83.86 257.70,83.92 258.70,83.98 259.70,84.03 260.70,84.09 261.70,84.14 262.70,84.19 263.70,84.24 264.70,84.29 265.70,84.34 266.70,84.39 267.70,84.44 268.70,84.48 269.70,84.53 270.70,84.57 271.70,84.62 272.70,84.66 273.70,84.70 274.70,84.75 275.70,84.79 276.70,84.83 277.70,84.88 278.70,84.92 279.70,84.97 280.70,85.01 281.70,85.06 282.70,85.10 283.70,85.15 284.70,85.20 285.70,85.25 286.70,85.29 287.70,85.34 288.70,85.38 289.70,85.42 290.70,85.46 291.70,85.50 292.70,85.54 293.70,85.58 294.70,85.63 295.70,85.69 296.70,85.76 297.70,85.84 298.70,85.95 299.70,86.16 300.70,86.48 301.70,86.86 302.70,87.29 303.70,87.73 304.70,88.20 305.70,88.84 306.70,89.59 307.70,90.37 308.70,91.10 309.70,91.70 310.70,92.09 311.70,92.20 312.70,92.14 313.70,92.03 314.70,91.88 315.70,91.72 316.70,91.57 317.70,91.46 318.70,91.40 319.70,91.40 320.70,91.41 321.70,91.42 322.70,91.43 323.70,91.44 324.70,91.46 325.70,91.48 326.70,91.51 327.70,91.53 328.70,91.56 329.70,91.59 330.70,91.63 331.70,91.66 332.70,91.70 333.70,91.73 334.70,91.77 335.70,91.81 336.70,91.85 337.70,91.90 338.70,91.94 339.70,91.98 340.70,92.02 341.70,92.06 342.70,92.10 343.70,92.14 344.70,92.18 345.70,92.22 346.70,92.26 347.70,92.30 348.70,92.33 349.70,92.37 350.70,92.41 351.70,92.45 352.70,92.49 353.70,92.53 354.70,92.58 355.70,92.62 356.70,92.66 357.70,92.71 358.70,92.75 359.70,92.80 360.70,92.85 361.70,92.89 362.70,92.94 363.70,92.98 364.70,93.03 365.70,93.07 366.70,93.12 367.70,93.16 368.70,93.20 369.70,93.24 370.70,93.28 371.70,93.32 372.70,93.36 373.70,93.40 374.70,93.43 375.70,93.47 376.70,93.50 377.70,93.53 378.70,93.56 379.70,93.59 380.70,93.61 381.70,93.64 382.70,93.67 383.70,93.70 384.70,93.72 385.70,93.75 386.70,93.77 387.70,93.80 388.70,93.82 389.70,93.85 390.70,93.87 391.70,93.89 392.70,93.91 393.70,93.93 394.70,93.95 395.70,93.97 396.70,93.99 397.40,94.00"/>
</g>
<g font-size="12px" fill="#000" stroke="#000" stroke-width="0.3" filter="url(#soft)">
<text x="73.55" y="289.4" text-anchor="middle">0</text>
<text x="154.52" y="289.4" text-anchor="middle">50</text>
<text x="235.50" y="289.4" text-anchor="middle">100</text>
<text x="316.47" y="289.4" text-anchor="middle">150</text>
<text x="397.45" y="289.4" text-anchor="middle">200</text>
<text x="69.2" y="230.70" text-anchor="end">50</text>
<text x="69.2" y="187.90" text-anchor="end">100</text>
<text x="69.2" y="145.10" text-anchor="end">150</text>
<text x="69.2" y="102.30" text-anchor="end">200</text>
<text x="69.2" y="59.50" text-anchor="end">250</text>
<text x="69.2" y="267.2" text-anchor="end">0</text>
<text x="235.6" y="308" text-anchor="middle">Time</text>
<text transform="translate(34.9 150.5) rotate(-90)" x="0" y="0">E<tspan font-size="7.5px" dy="3.1">pot</tspan></text>
</g>
<g font-size="9.4px" filter="url(#soft)">
<path d="M290.5 177.00H332.3" fill="none" stroke="#ff0000" stroke-width="2.30" stroke-dasharray="4.3 4.05"/>
<text x="336.5" y="180.40" fill="#ff0000" stroke="#ff0000" stroke-width="0.35">Erupt SD</text>
<path d="M290.5 189.43H332.3" fill="none" stroke="#ff8000" stroke-width="2.30" stroke-dasharray="6.4 2.1 1 2.1 1 2.1 1 2.1"/>
<text x="336.5" y="192.83" fill="#ff8000" stroke="#ff8000" stroke-width="0.35">Erupt MD</text>
<path d="M290.5 201.86H332.3" fill="none" stroke="#ffe600" stroke-width="2.30" stroke-dasharray="4.3 2 1 2"/>
<text x="336.5" y="205.26" fill="#ffe600" stroke="#ffe600" stroke-width="0.35">Erupt WD</text>
<path d="M290.5 214.29H332.3" fill="none" stroke="#00e1ff" stroke-width="2.30" stroke-dasharray="4.3 4.05"/>
<text x="336.5" y="217.69" fill="#00e1ff" stroke="#00e1ff" stroke-width="0.35">No Erupt WD</text>
<path d="M290.5 226.72H332.3" fill="none" stroke="#0032ff" stroke-width="2.30" stroke-dasharray="6.4 2.1 1 2.1 1 2.1 1 2.1"/>
<text x="336.5" y="230.12" fill="#0032ff" stroke="#0032ff" stroke-width="0.35">No Erupt MD</text>
<path d="M290.5 239.15H332.3" fill="none" stroke="#5a00a5" stroke-width="2.30" stroke-dasharray="4.3 2 1 2"/>
<text x="336.5" y="242.55" fill="#5a00a5" stroke="#5a00a5" stroke-width="0.35">No Erupt SD</text>
<path d="M290.5 251.58H332.3" fill="none" stroke="#000000" stroke-width="2.30"/>
<text x="336.5" y="254.98" fill="#000000" stroke="#000000" stroke-width="0.35">No Erupt ND</text>
</g>
</svg>
</body></html>
